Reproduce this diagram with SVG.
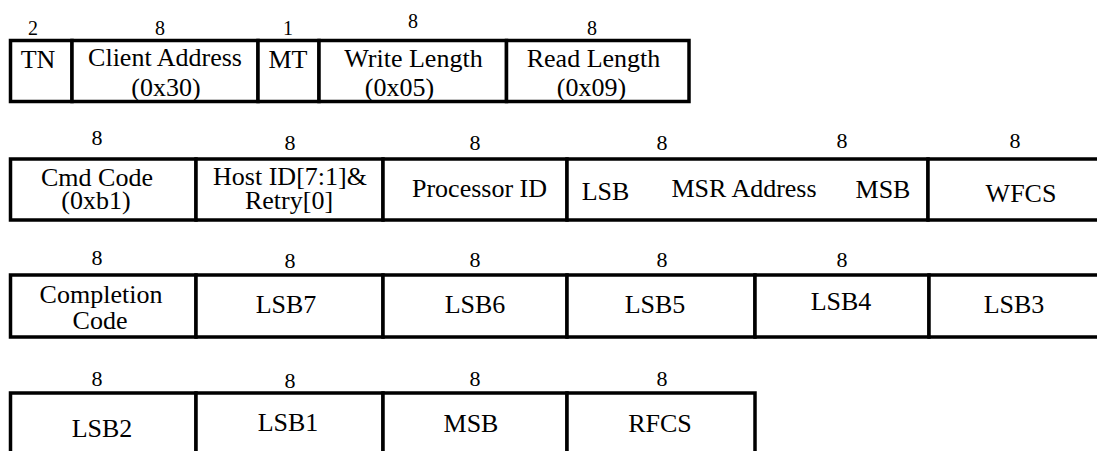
<svg xmlns="http://www.w3.org/2000/svg" width="1097" height="451" viewBox="0 0 1097 451" font-family="Liberation Serif, Times New Roman, DejaVu Serif, serif">
<style>
.cell{fill:#fff;stroke:#000;stroke-width:3.5;stroke-linejoin:miter}
text{fill:#000;text-anchor:middle}
.lb{font-size:26px}
.n1{font-size:20px}
.n{font-size:22px}
</style>
<rect x="0" y="0" width="1097" height="451" fill="#fff"/>
<g id="row1">
<g id="f-tn"><rect class="cell" x="10.5" y="40.5" width="61.5" height="61"/><text class="n1" x="33" y="35">2</text><text class="lb" x="38" y="68">TN</text></g>
<g id="f-client"><rect class="cell" x="72" y="40.5" width="186" height="61"/><text class="n1" x="160" y="35">8</text><text class="lb" x="165" y="66">Client Address</text><text class="lb" x="166" y="96">(0x30)</text></g>
<g id="f-mt"><rect class="cell" x="258" y="40.5" width="61" height="61"/><text class="n1" x="288" y="35">1</text><text class="lb" x="288" y="68">MT</text></g>
<g id="f-wl"><rect class="cell" x="319" y="40.5" width="187.5" height="61"/><text class="n1" x="413" y="28">8</text><text class="lb" x="413.5" y="67">Write Length</text><text class="lb" x="399.5" y="96">(0x05)</text></g>
<g id="f-rl"><rect class="cell" x="506.5" y="40.5" width="182.5" height="61"/><text class="n1" x="592" y="35">8</text><text class="lb" x="593.5" y="67">Read Length</text><text class="lb" x="591.5" y="96">(0x09)</text></g>
</g>
<g id="row2">
<g id="f-cmd"><rect class="cell" x="10.5" y="159" width="185.5" height="61"/><text class="n" x="97" y="145">8</text><text class="lb" x="97" y="186">Cmd Code</text><text class="lb" x="96" y="209">(0xb1)</text></g>
<g id="f-host"><rect class="cell" x="196" y="159" width="187" height="61"/><text class="n" x="290" y="150">8</text><text class="lb" x="290" y="185">Host ID[7:1]&amp;</text><text class="lb" x="289" y="209">Retry[0]</text></g>
<g id="f-proc"><rect class="cell" x="383" y="159" width="184" height="61"/><text class="n" x="475" y="150">8</text><text class="lb" x="479.5" y="197">Processor ID</text></g>
<g id="f-msr"><rect class="cell" x="567" y="159" width="361" height="61"/><text class="n" x="662" y="150">8</text><text class="n" x="842" y="148">8</text><text class="lb" x="605.5" y="200">LSB</text><text class="lb" x="744" y="197">MSR Address</text><text class="lb" x="883" y="198">MSB</text></g>
<g id="f-wfcs"><rect class="cell" x="928" y="159" width="185" height="61"/><text class="n" x="1015" y="148">8</text><text class="lb" x="1021" y="202">WFCS</text></g>
</g>
<g id="row3">
<g id="f-cc"><rect class="cell" x="10.5" y="275" width="185.5" height="62"/><text class="n" x="97" y="265">8</text><text class="lb" x="101" y="303">Completion</text><text class="lb" x="100" y="329">Code</text></g>
<g id="f-lsb7"><rect class="cell" x="196" y="275" width="187" height="62"/><text class="n" x="290" y="268">8</text><text class="lb" x="286" y="313">LSB7</text></g>
<g id="f-lsb6"><rect class="cell" x="383" y="275" width="184" height="62"/><text class="n" x="475" y="267">8</text><text class="lb" x="475" y="313">LSB6</text></g>
<g id="f-lsb5"><rect class="cell" x="567" y="275" width="188" height="62"/><text class="n" x="662" y="267">8</text><text class="lb" x="655" y="313">LSB5</text></g>
<g id="f-lsb4"><rect class="cell" x="755" y="275" width="174" height="62"/><text class="n" x="842" y="267">8</text><text class="lb" x="841" y="310">LSB4</text></g>
<g id="f-lsb3"><rect class="cell" x="929" y="275" width="183" height="62"/><text class="lb" x="1014" y="313">LSB3</text></g>
</g>
<g id="row4">
<g id="f-lsb2"><rect class="cell" x="10.5" y="393" width="185.5" height="80"/><text class="n" x="97" y="386">8</text><text class="lb" x="102" y="437">LSB2</text></g>
<g id="f-lsb1"><rect class="cell" x="196" y="393" width="187" height="80"/><text class="n" x="290" y="388">8</text><text class="lb" x="288" y="431">LSB1</text></g>
<g id="f-msb"><rect class="cell" x="383" y="393" width="184" height="80"/><text class="n" x="475" y="386">8</text><text class="lb" x="471" y="432">MSB</text></g>
<g id="f-rfcs"><rect class="cell" x="567" y="393" width="188" height="80"/><text class="n" x="662" y="386">8</text><text class="lb" x="660" y="432">RFCS</text></g>
</g>
<g id="connectors"/>
</svg>
